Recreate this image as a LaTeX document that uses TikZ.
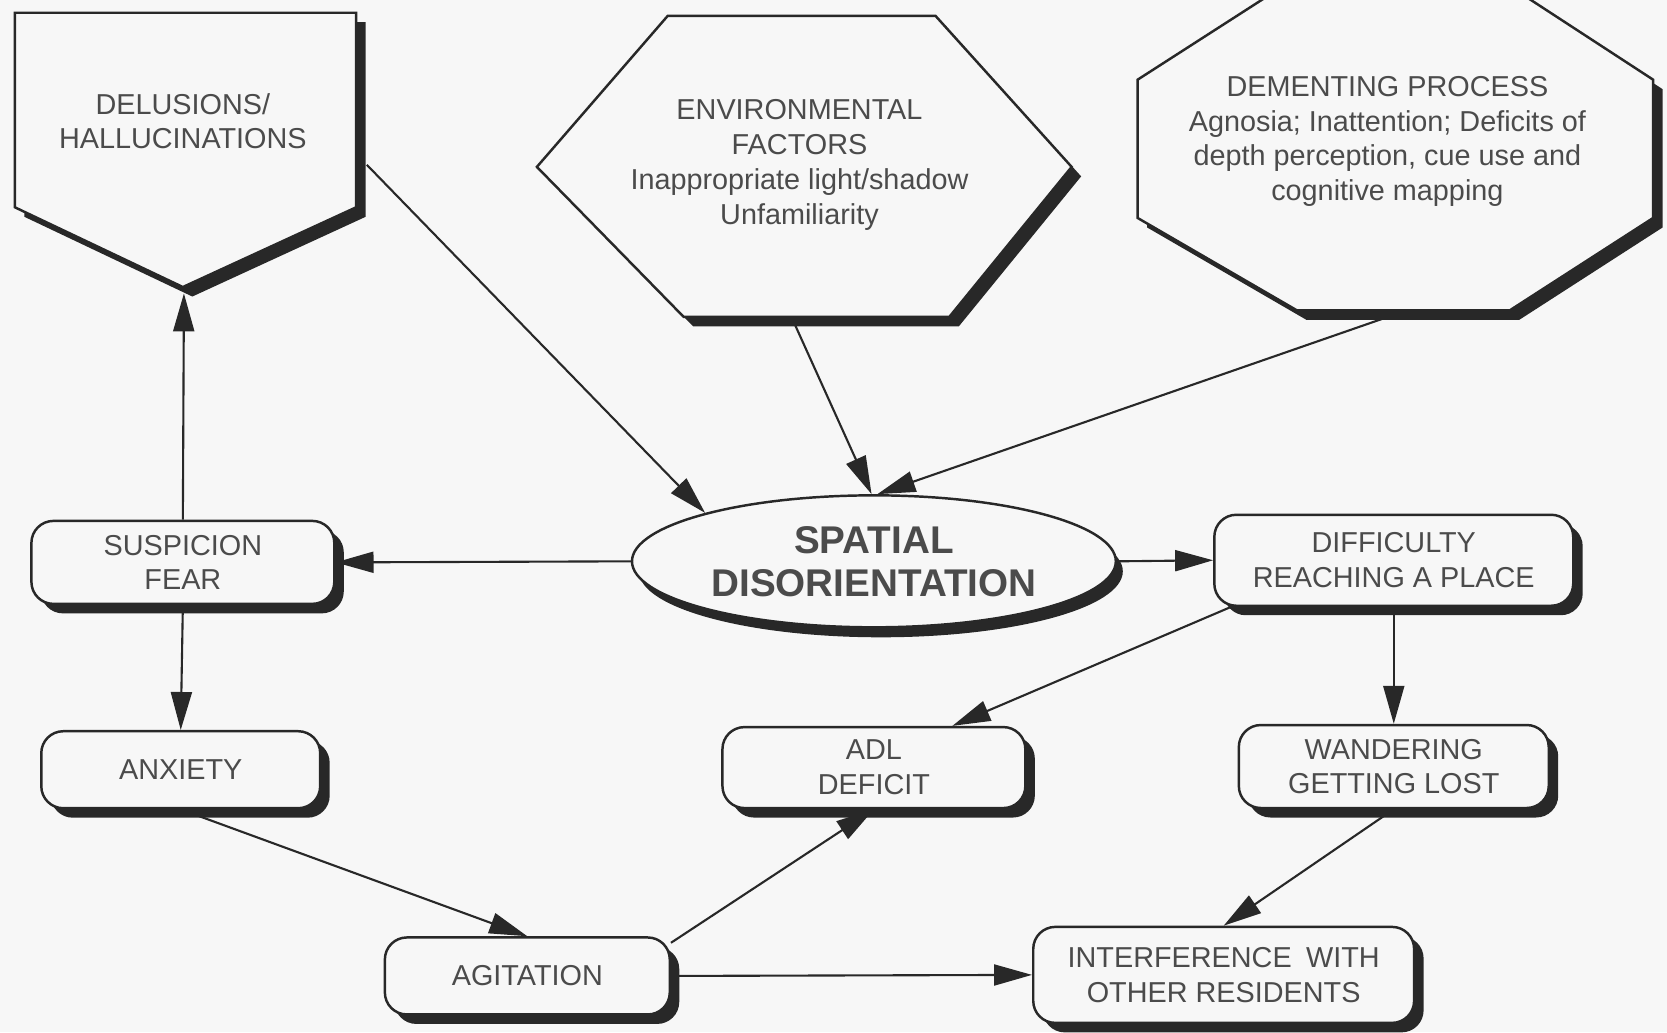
\documentclass[tikz,border=0pt]{standalone}
\usepackage{fontspec}
\setmainfont{Liberation Sans}
\usetikzlibrary{shapes.geometric,shadows,arrows.meta}
\definecolor{paper}{RGB}{247,247,247}
\definecolor{ink}{RGB}{40,40,40}
\definecolor{txt}{RGB}{75,75,75}
\tikzset{
  box/.style={draw=ink, line width=0.7pt, fill=paper, rounded corners=0.22cm,
    align=center, text=txt, font=\fontsize{8.2}{9.9}\selectfont, inner sep=0pt,
    drop shadow={shadow xshift=0.095cm, shadow yshift=-0.095cm, fill=ink, opacity=1}},
  polyshape/.style={draw=ink, line width=0.7pt, fill=paper,
    preaction={fill=ink, transform canvas={xshift=0.095cm, yshift=-0.095cm}}},
  polytext/.style={align=center, text=txt, font=\fontsize{8.2}{9.9}\selectfont},
  link/.style={draw=ink, line width=0.6pt, -{Triangle[length=0.38cm,width=0.21cm]}}
}

\begin{document}
\begin{tikzpicture}[x=0.010631cm,y=-0.010631cm]
\fill[paper] (0,0) rectangle (1568,971);
\useasboundingbox (0,0) rectangle (1568,971);

\draw[polyshape] (14,12) -- (335,12) -- (335,195) -- (172,270) -- (14,195) -- cycle;
\node[polytext] (delu) at (172,114) {DELUSIONS/\\HALLUCINATIONS};
\coordinate (delu-tip) at (173,276);
\coordinate (delu-e) at (345,155);

\draw[polyshape] (505,157) -- (628,15) -- (880,15) -- (1008,157) -- (893,298) -- (643,298) -- cycle;
\node[polytext] (env) at (752,155) {ENVIRONMENTAL\\FACTORS\\Inappropriate light/shadow\\Unfamiliarity};
\coordinate (env-s) at (748,306);

\draw[polyshape] (1210,-15) -- (1417,-15) -- (1555,75) -- (1555,205) -- (1420,292)
  -- (1220,292) -- (1070,205) -- (1070,75) -- cycle;
\node[polytext] (dem) at (1305,133) {DEMENTING PROCESS\\Agnosia; Inattention; Deficits of\\depth perception, cue use and\\cognitive mapping};
\coordinate (dem-s) at (1300,300);

\node[ellipse, draw=ink, line width=0.7pt, fill=paper, minimum width=4.84cm, minimum height=1.32cm,
  inner sep=0pt, align=center, text=txt, font=\fontsize{11}{12.2}\selectfont\bfseries,
  drop shadow={shadow xshift=0.07cm, shadow yshift=-0.1cm, fill=ink, opacity=1}]
  (spatial) at (822,528) {SPATIAL\\DISORIENTATION};

\node[box, minimum width=3.03cm, minimum height=0.83cm] (susp) at (172,529) {SUSPICION\\FEAR};
\node[box, minimum width=2.79cm, minimum height=0.77cm] (anx) at (170,724) {ANXIETY};
\node[box, minimum width=3.03cm, minimum height=0.81cm] (adl) at (822,722) {ADL\\DEFICIT};
\node[box, minimum width=3.59cm, minimum height=0.91cm] (diff) at (1311,527) {DIFFICULTY\\REACHING A PLACE};
\node[box, minimum width=3.10cm, minimum height=0.83cm] (wand) at (1311,721) {WANDERING\\GETTING LOST};
\node[box, minimum width=2.85cm, minimum height=0.77cm] (agit) at (496,918) {AGITATION};
\node[box, minimum width=3.81cm, minimum height=0.96cm] (interf) at (1151,917) {INTERFERENCE\enspace WITH\\OTHER RESIDENTS};

\draw[link] (delu-e) -- (spatial.164);
\draw[link] (env-s) -- (spatial.92);
\draw[link] (dem-s) -- (spatial.87);
\draw[link] (spatial.west) -- (susp.east);
\draw[link] (spatial.east) -- (diff.west);
\draw[link] (susp.north) -- (delu-tip);
\draw[link] (susp.south) -- (anx.north);
\draw[link] (anx.south) -- (agit.north);
\draw[link] (agit.13) -- (adl.south);
\draw[link] (diff.196) -- (adl.28);
\draw[link] (diff.south) -- (wand.north);
\draw[link] (wand.south) -- (interf.north);
\draw[link] (agit.east) -- (interf.west);
\end{tikzpicture}
\end{document}
